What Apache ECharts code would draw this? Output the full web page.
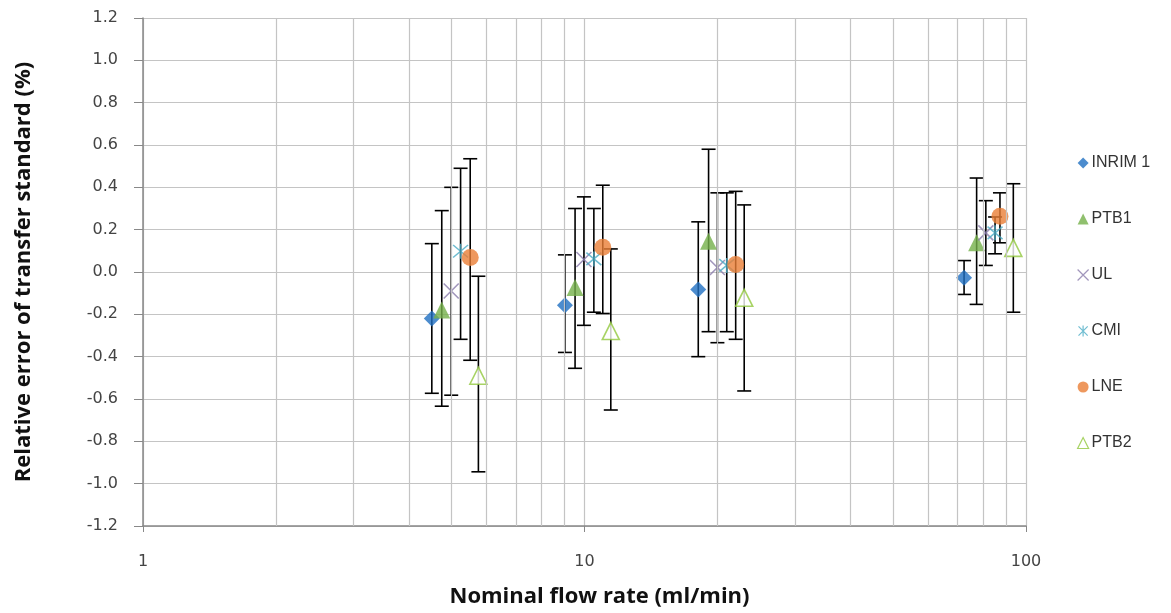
<!DOCTYPE html>
<html>
<head>
<meta charset="utf-8">
<script src="https://cdn.jsdelivr.net/npm/echarts@6/dist/echarts.min.js"></script>
<style>
  html, body { margin: 0; padding: 0; background: #fff; }
  #chart { width: 1171px; height: 613px; }
</style>
</head>
<body>
<div id="chart"></div>
<script>
// labs, in legend order
const labs = ['INRIM 1', 'PTB1', 'UL', 'CMI', 'LNE', 'PTB2']

// nominal flow rate (ml/min) per lab, 4 flow points each
const flowX = {
  'INRIM 1': [4.51, 9.03, 18.1, 72.4],
  'PTB1':    [4.75, 9.52, 19.1, 77.3],
  'UL':      [4.99, 9.97, 20.0, 81.1],
  'CMI':     [5.24, 10.5, 21.0, 85.1],
  'LNE':     [5.51, 11.0, 22.0, 87.3],
  'PTB2':    [5.75, 11.47, 23.0, 93.6]
}
// relative error (%)
const relErr = {
  'INRIM 1': [-0.22, -0.157, -0.083, -0.027],
  'PTB1':    [-0.18, -0.073, 0.145, 0.138],
  'UL':      [-0.09, 0.059, 0.021, 0.185],
  'CMI':     [0.098, 0.062, 0.031, 0.185],
  'LNE':     [0.068, 0.117, 0.035, 0.263],
  'PTB2':    [-0.49, -0.279, -0.122, 0.114]
}
// error bar ends (upper / lower)
const errHigh = {
  'INRIM 1': [0.134, 0.081, 0.237, 0.054],
  'PTB1':    [0.29, 0.30, 0.58, 0.444],
  'UL':      [0.40, 0.355, 0.374, 0.337],
  'CMI':     [0.49, 0.30, 0.374, 0.26],
  'LNE':     [0.535, 0.41, 0.381, 0.374],
  'PTB2':    [-0.02, 0.109, 0.317, 0.417]
}
const errLow = {
  'INRIM 1': [-0.573, -0.38, -0.40, -0.106],
  'PTB1':    [-0.634, -0.455, -0.282, -0.153],
  'UL':      [-0.582, -0.252, -0.334, 0.031],
  'CMI':     [-0.318, -0.19, -0.282, 0.086],
  'LNE':     [-0.417, -0.196, -0.318, 0.138],
  'PTB2':    [-0.944, -0.652, -0.562, -0.19]
}

// minor log grid lines
const minorGrid = [2, 3, 4, 5, 6, 7, 8, 9, 20, 30, 40, 50, 60, 70, 80, 90]

const xMarkPath = 'path://M0,0L10,10M10,0L0,10'
const starPath = 'path://M0,0L10,10M10,0L0,10M5,-1L5,11'

const styles = {
  'INRIM 1': { symbol: 'diamond', size: 16, color: '#1f6fc2' },
  'PTB1':    { symbol: 'triangle', size: 17, color: '#74b04a' },
  'UL':      { symbol: xMarkPath, size: 15, color: '#8a7cab', stroke: true },
  'CMI':     { symbol: starPath, size: 15, color: '#4bacc6', stroke: true },
  'LNE':     { symbol: 'circle', size: 17, color: '#ea7e36' },
  'PTB2':    { symbol: 'triangle', size: 17, color: '#92c83e', hollow: true }
}

const chart = echarts.init(document.getElementById('chart'))

const errData = []
labs.forEach(lab => {
  flowX[lab].forEach((x, i) => errData.push([x, errLow[lab][i], errHigh[lab][i]]))
})

const errSeries = {
  name: 'err',
  type: 'custom',
  z: 1,
  silent: true,
  data: errData,
  encode: { x: 0, y: [1, 2] },
  renderItem: (params, api) => {
    const lo = api.coord([api.value(0), api.value(1)])
    const hi = api.coord([api.value(0), api.value(2)])
    const w = 7
    const st = { stroke: '#000', lineWidth: 1.6 }
    return {
      type: 'group',
      children: [
        { type: 'line', shape: { x1: lo[0], y1: lo[1], x2: hi[0], y2: hi[1] }, style: st },
        { type: 'line', shape: { x1: lo[0] - w, y1: lo[1], x2: lo[0] + w, y2: lo[1] }, style: st },
        { type: 'line', shape: { x1: hi[0] - w, y1: hi[1], x2: hi[0] + w, y2: hi[1] }, style: st }
      ]
    }
  }
}

const gridSeries = {
  name: 'minorGrid',
  type: 'line',
  data: [],
  silent: true,
  markLine: {
    silent: true,
    symbol: 'none',
    label: { show: false },
    lineStyle: { color: '#c4c4c4', type: 'solid', width: 1.2 },
    data: minorGrid.map(v => ({ xAxis: v }))
  }
}

const pointSeries = labs.map(lab => {
  const s = styles[lab]
  let itemStyle
  if (s.stroke) {
    itemStyle = { color: 'rgba(0,0,0,0)', borderColor: s.color, borderWidth: 1.6 }
  } else if (s.hollow) {
    itemStyle = { color: '#fff', borderColor: s.color, borderWidth: 1.6 }
  } else {
    itemStyle = { color: s.color }
  }
  return {
    name: lab,
    type: 'scatter',
    z: 3,
    symbol: s.symbol,
    symbolSize: s.size,
    itemStyle,
    data: flowX[lab].map((x, i) => [x, relErr[lab][i]])
  }
})

const option = {
  animation: false,
  textStyle: { fontFamily: 'Liberation Sans, Arial, sans-serif' },
  grid: { left: 143, right: 145, top: 18, bottom: 86 },
  legend: {
    data: labs.map(lab => ({
      name: lab,
      icon: styles[lab].symbol,
      itemStyle: styles[lab].stroke
        ? { color: 'rgba(0,0,0,0)', borderColor: styles[lab].color, borderWidth: 1.2 }
        : styles[lab].hollow
          ? { color: '#fff', borderColor: styles[lab].color, borderWidth: 1.2 }
          : { color: styles[lab].color }
    })),
    orient: 'vertical',
    left: 1072,
    top: 150,
    itemWidth: 11,
    itemHeight: 11,
    itemGap: 40,
    textStyle: { fontSize: 16, color: '#333', padding: [0, 0, 0, -2] }
  },
  xAxis: {
    type: 'log',
    logBase: 10,
    min: 1,
    max: 100,
    name: 'Nominal flow rate (ml/min)',
    nameLocation: 'middle',
    nameGap: 60,
    nameTextStyle: { fontSize: 22, fontWeight: 'bold', color: '#111', fontFamily: 'Open Sans', padding: [0, 0, 0, 30] },
    axisLine: { onZero: false, lineStyle: { color: '#888', width: 1.5 } },
    axisTick: { show: true, length: 6, lineStyle: { color: '#888' } },
    axisLabel: { fontSize: 16, color: '#444', margin: 28, fontFamily: 'DejaVu Sans' },
    splitLine: { show: true, lineStyle: { color: '#c4c4c4', width: 1.2 } }
  },
  yAxis: {
    type: 'value',
    min: -1.2,
    max: 1.2,
    interval: 0.2,
    name: 'Relative error of transfer standard (%)',
    nameLocation: 'middle',
    nameGap: 108,
    nameTextStyle: { fontSize: 22, fontWeight: 'bold', color: '#111', fontFamily: 'Open Sans' },
    axisLine: { show: true, onZero: false, lineStyle: { color: '#888', width: 1.5 } },
    axisTick: { show: true, length: 9, lineStyle: { color: '#888' } },
    axisLabel: { fontSize: 16, color: '#444', margin: 25, fontFamily: 'DejaVu Sans', formatter: v => v.toFixed(1) },
    splitLine: { show: true, lineStyle: { color: '#c4c4c4', width: 1.2 } }
  },
  series: [gridSeries, errSeries, ...pointSeries]
}

chart.setOption(option)
</script>
</body>
</html>
